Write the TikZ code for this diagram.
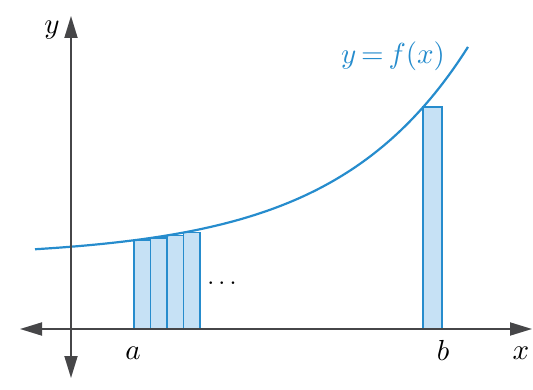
\documentclass[tikz,border=0pt]{standalone}
\usepackage{graphicx}
\usetikzlibrary{arrows.meta}
\definecolor{curveblue}{RGB}{38,140,205}
\definecolor{fillblue}{RGB}{198,225,245}
\definecolor{axisgray}{RGB}{70,70,72}
\newcommand{\biglab}[1]{\scalebox{2.9}{#1}}
\begin{document}
\begin{tikzpicture}[x=1pt,y=-1pt,
  axis/.style={draw=axisgray,line width=1.8pt,{Triangle[length=22pt,width=13pt]}-{Triangle[length=22pt,width=13pt]}},
  rect/.style={draw=curveblue,fill=fillblue,line width=1.8pt},
  curve/.style={draw=curveblue,line width=2.2pt},
  lab/.style={inner sep=0pt},
  declare function={fy(\t)=329-(71.6+152.4*exp(0.0075*(\t-425)));}]
\useasboundingbox (0,0) rectangle (533,390);
% rectangles
\foreach \xa/\xb in {134/150.5,150.5/167,167/183.5,183.5/200,423/442}{
  \draw[rect] (\xa,329) rectangle (\xb,{fy(\xa)});
}
% curve
\draw[curve] plot[domain=35:468,samples=80,smooth] (\x,{fy(\x)});
% axes
\coordinate (xl) at (20,329);
\coordinate (xr) at (532,329);
\coordinate (yb) at (71,378);
\coordinate (yt) at (71,16);
\draw[axis] (xl) -- (xr);
\draw[axis] (yb) -- (yt);
% labels
\node[lab] (ylab) at (52,30) {\biglab{$y$}};
\node[lab] (xlab) at (521,353) {\biglab{$x$}};
\node[lab,anchor=base] (alab) at (133,359) {\biglab{$a$}};
\node[lab,anchor=base] (blab) at (443,360) {\biglab{$b$}};
\node[lab,anchor=base] (fl) at (393,64) {\color{curveblue}\biglab{$y\,{=}\,f(x)$}};
\node[lab,anchor=base] (dots) at (222,284) {\scalebox{2.5}{$\dots$}};
\end{tikzpicture}
\end{document}
